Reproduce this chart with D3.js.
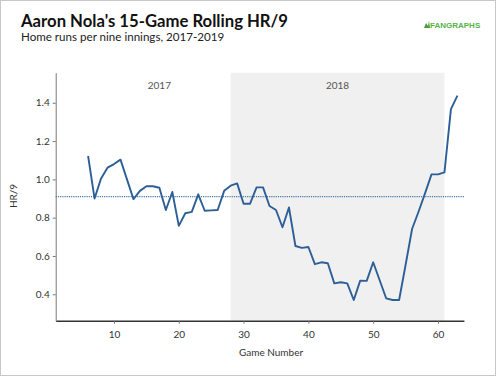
<!DOCTYPE html>
<html><head><meta charset="utf-8">
<script src="https://cdn.jsdelivr.net/npm/d3@7"></script>
<style>body{margin:0;background:#fff;font-family:Lato,"Open Sans",sans-serif;}</style>
</head><body><svg id="chart" width="497" height="377"></svg>
<script>
const games = d3.range(6, 64);
const hr9 = [1.122,0.90,1.005,1.061,1.08,1.103,1.00,0.897,0.94,0.964,0.964,0.956,0.84,0.934,0.757,0.823,0.83,0.922,0.836,0.838,0.84,0.94,0.967,0.979,0.873,0.873,0.958,0.958,0.861,0.84,0.75,0.853,0.652,0.642,0.647,0.557,0.567,0.562,0.457,0.463,0.457,0.37,0.471,0.47,0.567,0.473,0.379,0.37,0.37,0.553,0.741,0.831,0.927,1.026,1.026,1.037,1.367,1.437];
const seasons = ["2017","2018"];
const seasonStart = [6, 28];
const seasonEnd = [28, 61];
const average = 0.91;
const yTicks = [0.4,0.6,0.8,1.0,1.2,1.4];
const xTicks = [10,20,30,40,50,60];

const svg = d3.select("#chart");
svg.append("rect").attr("x",0.5).attr("y",0.5).attr("width",495).attr("height",375).attr("fill","#fff").attr("stroke","#c8c8c8");

const x = d3.scaleLinear().domain([1,64]).range([55.7,463.9]);
const y = d3.scaleLinear().domain([0.262,1.557]).range([320.7,72.7]);

// shading 2018
svg.append("rect").attr("x",x(seasonStart[1])).attr("y",y.range()[1])
  .attr("width",x(seasonEnd[1])-x(seasonStart[1])).attr("height",y.range()[0]-y.range()[1]).attr("fill","#f0f0f0");
seasons.forEach((s,i)=>{
  svg.append("text").attr("x",(x(seasonStart[i])+x(seasonEnd[i]))/2).attr("y",89)
    .attr("text-anchor","middle").attr("font-size",10).attr("fill","#555").text(s);
});

// average line
svg.append("line").attr("x1",x(1)).attr("x2",x(64)).attr("y1",y(average)).attr("y2",y(average))
  .attr("stroke","#4a78a8").attr("stroke-width",1.2).attr("stroke-dasharray","1.2,1");

// axes
const xa = svg.append("g").attr("transform",`translate(0,${y.range()[0]})`)
  .call(d3.axisBottom(x).tickValues(xTicks).tickSize(3).tickSizeOuter(0).tickFormat(d3.format("d")));
xa.select(".domain").attr("stroke","#333").attr("stroke-width",1.5);
const ya = svg.append("g").attr("transform",`translate(${x.range()[0]},0)`)
  .call(d3.axisLeft(y).tickValues(yTicks).tickSize(3).tickSizeOuter(0).tickFormat(d3.format(".1f")));
ya.select(".domain").attr("stroke","#777");
[xa,ya].forEach(a=>{
  a.selectAll("text").attr("font-family","Lato,sans-serif").attr("font-size",10).attr("fill","#333");
  a.selectAll(".tick line").attr("stroke","#777");
});
xa.selectAll("text").attr("dy","1.1em");

// line
svg.append("path").datum(games.map((g,i)=>[g,hr9[i]]))
  .attr("fill","none").attr("stroke","#2d5f97").attr("stroke-width",1.9).attr("stroke-linejoin","round")
  .attr("d",d3.line().x(d=>x(d[0])).y(d=>y(d[1])));

// titles
svg.append("text").attr("x",21).attr("y",27).attr("font-size",16.7).attr("font-weight","bold").attr("fill","#111")
  .text("Aaron Nola's 15-Game Rolling HR/9");
svg.append("text").attr("x",21).attr("y",41).attr("font-size",11.6).attr("fill","#222")
  .text("Home runs per nine innings, 2017-2019");
svg.append("text").attr("transform","translate(17,196) rotate(-90)").attr("text-anchor","middle")
  .attr("font-size",10).attr("fill","#333").text("HR/9");
svg.append("text").attr("x",271).attr("y",356).attr("text-anchor","middle")
  .attr("font-size",10).attr("fill","#333").text("Game Number");

// logo
const lg = svg.append("g").attr("transform","translate(423,20)");
lg.append("path").attr("d","M1,8 L3,3 L5,6 L6,1 L7,8 Z").attr("fill","#4a9a3a");
lg.append("text").attr("x",7).attr("y",7.5).attr("font-size",8).attr("font-weight","bold").attr("fill","#58b24a")
  .attr("font-family","Arial,Liberation Sans,sans-serif").text("FANGRAPHS");
</script></body></html>
